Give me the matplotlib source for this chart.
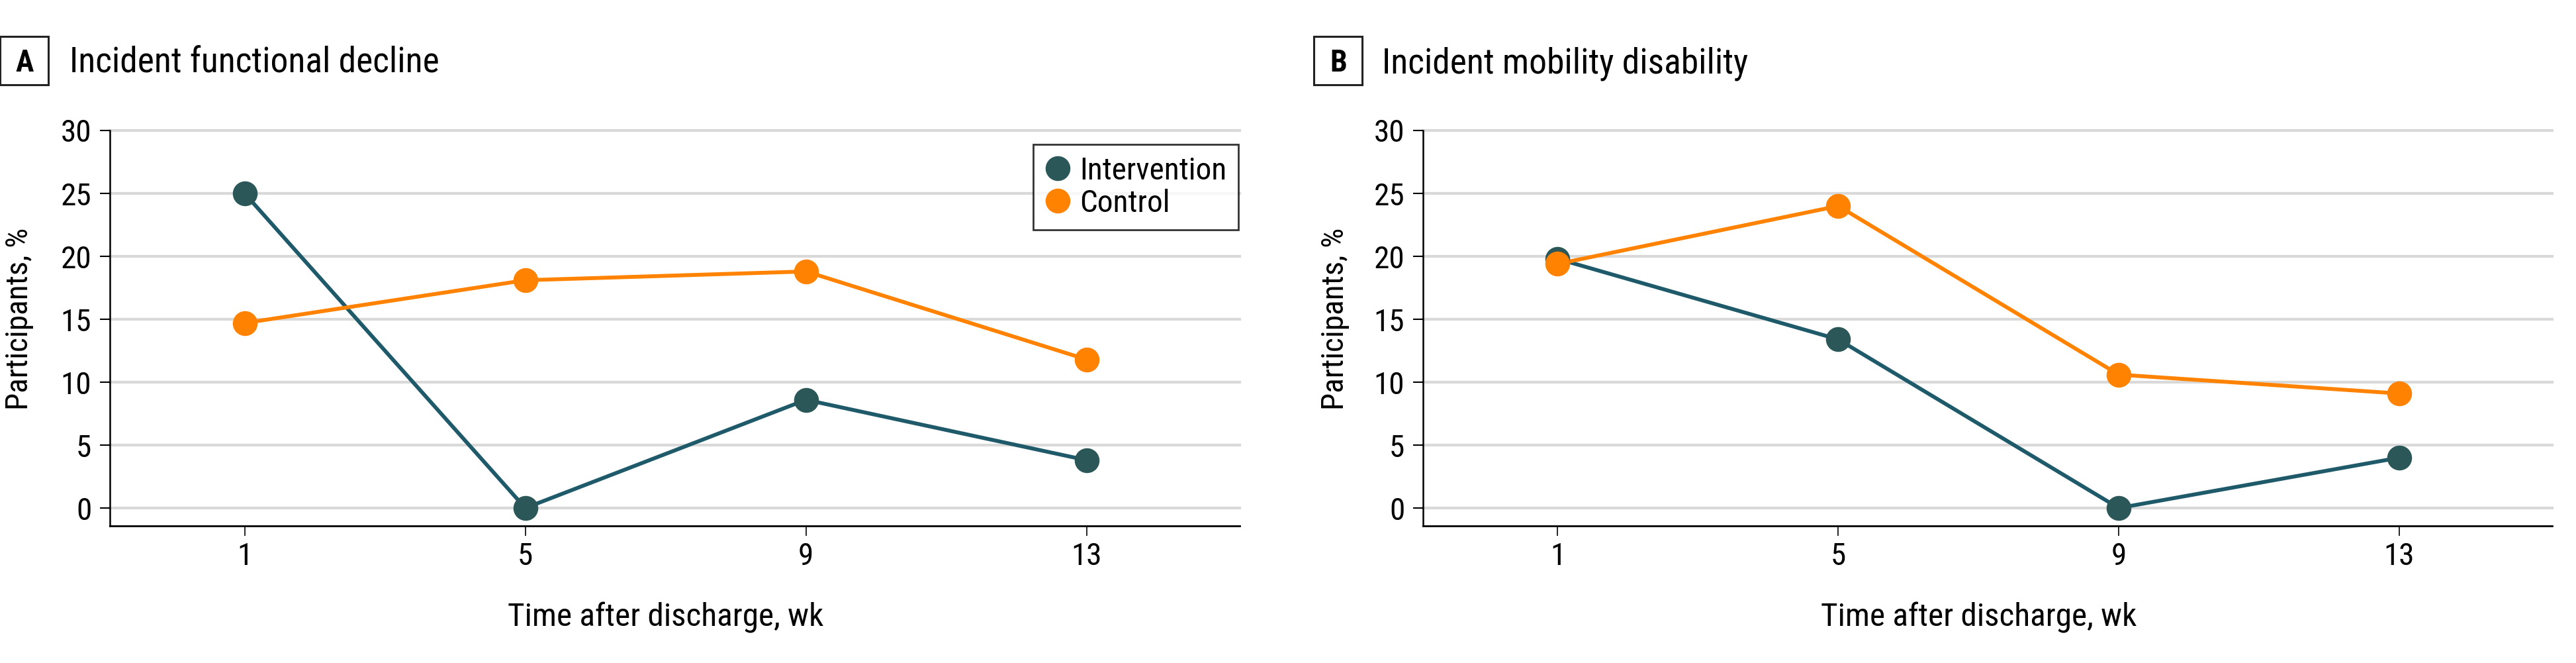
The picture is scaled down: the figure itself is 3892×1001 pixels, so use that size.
import matplotlib
matplotlib.use('Agg')
import matplotlib.pyplot as plt
from matplotlib import font_manager
from matplotlib.patches import Rectangle

# look for a narrow sans, the original uses a condensed face
installed = {f.name for f in font_manager.fontManager.ttflist}
narrow = [n for n in ['Roboto Condensed', 'DejaVu Sans Condensed', 'Open Sans Condensed',
                      'Liberation Sans Narrow', 'Noto Sans Condensed'] if n in installed]
plt.rcParams['font.family'] = narrow + ['DejaVu Sans']
plt.rcParams['font.stretch'] = 'condensed'

weeks = [1, 5, 9, 13]
week_labels = ['1', '5', '9', '13']
y_ticks = [0, 5, 10, 15, 20, 25, 30]

# panel A: incident functional decline
a_intervention = [25.0, 0.0, 8.6, 3.8]
a_control = [14.7, 18.1, 18.8, 11.8]
# panel B: incident mobility disability
b_intervention = [19.8, 13.4, 0.0, 4.0]
b_control = [19.4, 24.0, 10.6, 9.1]

teal = '#2b5758'
teal_line = '#1f5a6a'
orange = '#ff8200'

W, H = 3892, 1001
fig = plt.figure(figsize=(W / 100, H / 100), dpi=100)


def px(x0, y0, x1, y1):
    # pixel box -> figure fraction [left, bottom, width, height]
    return [x0 / W, 1 - y1 / H, (x1 - x0) / W, (y1 - y0) / H]


def panel(rect, inter, ctrl, letter, title, box_x, title_x, ylab_x, legend=False):
    ax = fig.add_axes(rect)
    ax.set_xlim(-0.92, 15.18)
    ax.set_ylim(-1.42, 30)
    for y in y_ticks:
        ax.axhline(y, color='#d9d9d9', lw=3.0, zorder=0, clip_on=False)
    ax.plot(weeks, inter, color=teal_line, lw=4.2, zorder=2)
    ax.plot(weeks, ctrl, color=orange, lw=4.2, zorder=2)
    ax.plot(weeks, inter, 'o', color=teal, ms=26, zorder=3, label='Intervention', clip_on=False)
    ax.plot(weeks, ctrl, 'o', color=orange, ms=26, zorder=3, label='Control', clip_on=False)

    ax.set_xticks(weeks)
    ax.set_xticklabels(week_labels)
    ax.set_yticks(y_ticks)
    ax.tick_params(axis='x', length=11, width=1.2, pad=6, labelsize=34)
    ax.tick_params(axis='y', length=11, width=1.5, pad=9, labelsize=34)
    for s in ['top', 'right']:
        ax.spines[s].set_visible(False)
    ax.spines['left'].set_linewidth(1.8)
    ax.spines['bottom'].set_linewidth(2.0)

    ax.set_ylabel('Participants, %', fontsize=34, va='center')
    ax.yaxis.set_label_coords(ylab_x, 0.523)
    ax.set_xlabel('Time after discharge, wk', fontsize=35.5, va='baseline')
    ax.xaxis.set_label_coords(0.492, -0.253)

    # panel letter box and title
    fig.add_artist(Rectangle((box_x / W, 1 - 128 / H), 73 / W, 73 / H,
                             transform=fig.transFigure, fill=False, ec='#222222', lw=2.2))
    fig.text((box_x + 37) / W, 1 - 108 / H, letter, ha='center', va='baseline',
             fontsize=33, fontweight='bold')
    fig.text(title_x / W, 1 - 110 / H, title, ha='left', va='baseline', fontsize=38.5)

    if legend:
        leg = ax.legend(loc='upper right', bbox_to_anchor=(0.9988, 0.9648), borderaxespad=0,
                        fontsize=34, frameon=True, fancybox=False, handletextpad=0.3,
                        handlelength=0.8, borderpad=0.38, labelspacing=0.1, markerscale=1.0)
        leg.get_frame().set_edgecolor('black')
        leg.get_frame().set_linewidth(2.0)
    return ax


panel(px(166, 197, 1873, 794), a_intervention, a_control,
      'A', 'Incident functional decline', 0, 105, -0.080, legend=True)
panel(px(2150, 197, 3856, 794), b_intervention, b_control,
      'B', 'Incident mobility disability', 1985, 2088, -0.078)

fig.savefig('out.png', dpi=100)
